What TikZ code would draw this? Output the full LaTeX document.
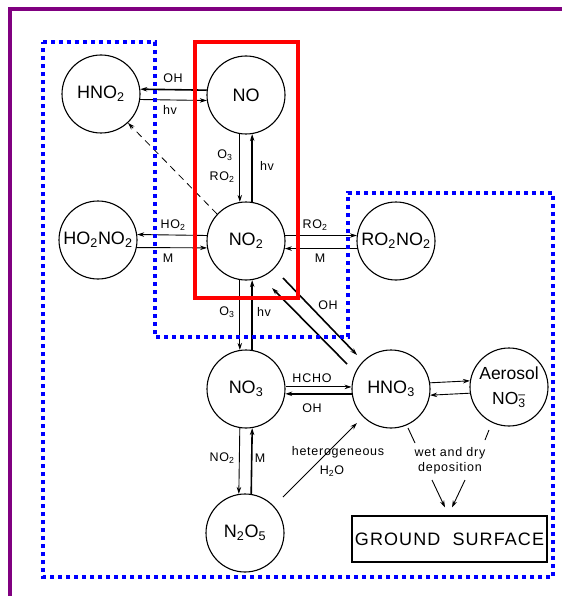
\documentclass[tikz,border=0pt]{standalone}
\usepackage{fontspec}
\setmainfont{Liberation Sans}
\newfontfamily\lblfont{Liberation Sans}[LetterSpace=6]
\usetikzlibrary{arrows.meta,calc}
\definecolor{dblue}{RGB}{0,0,255}
\definecolor{dred}{RGB}{255,0,0}
\definecolor{dpurple}{RGB}{128,0,128}
\newcommand\chsub[1]{\textsubscript{#1}}
\tikzset{
  circ/.style={circle, draw, line width=1.1pt, minimum size=78pt, inner sep=0pt, fill=white,
    font=\fontsize{18}{20}\selectfont},
  lbl/.style={inner sep=0.5pt, font=\lblfont\fontsize{12.5}{14}\selectfont},
  arr/.style={line width=0.9pt, -{Stealth[length=7pt,width=4.5pt]}},
  thk/.style={line width=1.6pt},
}
\begin{document}
\begin{tikzpicture}[x=1pt,y=-1pt]
\useasboundingbox (0,0) rectangle (562,596);
% nodes
\node[circ] (HNO2) at (101,94) {HNO\chsub{2}};
\node[circ] (NO) at (246,95) {NO};
\node[circ] (HO2NO2) at (98,240) {HO\chsub{2}NO\chsub{2}};
\node[circ] (NO2) at (246,241) {NO\chsub{2}};
\node[circ] (RO2NO2) at (396,241) {RO\chsub{2}NO\chsub{2}};
\node[circ] (NO3) at (246,389) {NO\chsub{3}};
\node[circ] (HNO3) at (391,389) {HNO\chsub{3}};
\node[circ, align=center, font=\fontsize{17.5}{25}\selectfont] (aer) at (509,387) {Aerosol\\NO\rlap{\textsuperscript{--}}\textsubscript{3}};
\node[circ] (N2O5) at (245,533) {N\chsub{2}O\chsub{5}};
\node[draw, line width=1.1pt, minimum width=195pt, minimum height=46pt, inner sep=0pt,
  font=\lblfont\fontsize{18}{20}\selectfont] (ground) at (449.5,539) {GROUND\ \ SURFACE};
\node[lbl, align=center] (dep) at (450,461) {wet and dry\\[1pt]deposition};
% HNO2 - NO
\draw[arr,thk] (NO.173) -- (HNO2.7);
\draw[arr] (HNO2.-8) -- (NO.188);
\node[lbl] (l1) at (173,78) {OH};
\node[lbl] (l2) at (170,110) {hv};
% NO - NO2
\draw[arr] (NO.261) -- (NO2.99);
\draw[arr,thk] (NO2.81) -- (NO.279);
\node[lbl] (l3) at (225,155) {O\chsub{3}};
\node[lbl] (l4) at (222,177) {RO\chsub{2}};
\node[lbl] (l5) at (267,166) {hv};
% dashed NO2 -> HNO2
\draw[arr, line width=0.8pt, dash pattern=on 7pt off 5pt] (NO2.137) -- (HNO2.-47);
% HO2NO2 - NO2
\draw[arr] (NO2.172) -- (HO2NO2.8);
\draw[arr] (HO2NO2.-11) -- (NO2.190);
\node[lbl] (l6) at (173,225) {HO\chsub{2}};
\node[lbl] (l7) at (168,258) {M};
% NO2 - RO2NO2
\draw[arr] (NO2.8) -- (RO2NO2.172);
\draw[arr] (RO2NO2.191) -- (NO2.-11);
\node[lbl] (l8) at (315,225) {RO\chsub{2}};
\node[lbl] (l9) at (320,258) {M};
% NO2 - NO3
\draw[arr] (NO2.261) -- (NO3.99);
\draw[arr,thk] (NO3.81) -- (NO2.279);
\node[lbl] (l10) at (227,312) {O\chsub{3}};
\node[lbl] (l11) at (264,312) {hv};
% NO2 - HNO3 diagonals
\draw[arr,thk] ($(NO2.center)+(37,37)$) -- ($(HNO3.center)+(-34,-34)$);
\draw[arr,thk] ($(HNO3.center)+(-44,-25)$) -- ($(NO2.center)+(26,47)$);
\node[lbl] (l12) at (328,305) {OH};
% NO3 - HNO3
\draw[arr] (NO3.3) -- (HNO3.177);
\draw[arr,thk] (HNO3.187) -- (NO3.-7);
\node[lbl] (l13) at (312,378) {HCHO};
\node[lbl] (l14) at (312,408) {OH};
% HNO3 - aerosol
\draw[arr] (HNO3.9) -- (aer.171);
\draw[arr] (aer.189) -- (HNO3.-9);
% NO3 - N2O5
\draw[arr] (NO3.261) -- (N2O5.99);
\draw[arr,thk] (N2O5.81) -- (NO3.279);
\node[lbl] (l15) at (222,458) {NO\chsub{2}};
\node[lbl] (l16) at (260,458) {M};
% N2O5 -> HNO3
\draw[arr] ($(N2O5.center)+(38,-36)$) -- ($(HNO3.center)+(-34,34)$);
\node[lbl] (l17) at (338,452) {heterogeneous};
\node[lbl] (l18) at (332,471) {H\chsub{2}O};
% deposition
\draw[line width=0.9pt] ($(HNO3.center)+(17,39)$) -- ($(HNO3.center)+(24,54)$);
\draw[line width=0.9pt] ($(aer.center)+(-20,43)$) -- ($(aer.center)+(-24,53)$);
\draw[arr] ($(dep.center)+(-18,19)$) -- ($(ground.north)+(-4.5,-8)$);
\draw[arr] ($(dep.center)+(15,19)$) -- ($(ground.north)+(2.5,-8)$);
% annotation boxes
\draw[dblue, line width=4pt, dash pattern=on 4pt off 4pt]
  (43,42) -- (155,42) -- (155,337) -- (348,337) -- (348,193) -- (553,193) -- (553,577) -- (43,577) -- cycle;
\draw[dred, line width=3.5pt] (195,42) rectangle (298,298);
\draw[dpurple, line width=4pt] (10,596) -- (10,9.5) -- (562,9.5);
\end{tikzpicture}
\end{document}
